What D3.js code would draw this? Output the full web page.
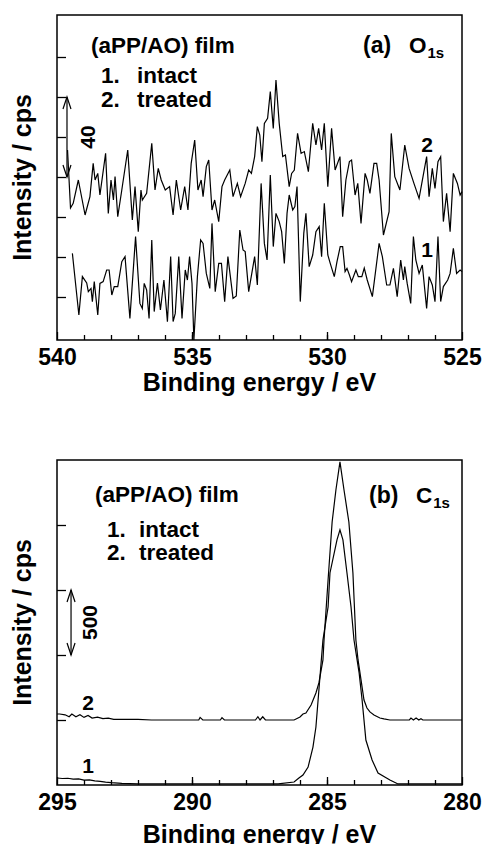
<!DOCTYPE html>
<html>
<head>
<meta charset="utf-8" />
<script src="https://d3js.org/d3.v7.min.js"></script>
<style>
  body { margin: 0; background: #fff; }
  svg text { font-family: "Liberation Sans", Arial, sans-serif; font-weight: bold; fill: #000; }
</style>
</head>
<body>
<svg id="chart" width="482" height="844"></svg>
<script>
// ---- (a) O1s : [binding energy eV, intensity cps] ----
const o1sTreated = [
  [539.61, 93.5], [539.50, 64.5], [539.40, 66.8], [539.21, 78.5], [538.96, 61], [538.78, 70.2],
  [538.66, 86.8], [538.59, 78.5], [538.49, 81.8], [538.41, 71], [538.20, 91.8], [538.10, 61.8],
  [538.00, 78.5], [537.91, 68.5], [537.85, 80.2], [537.75, 60.2], [537.60, 73.5], [537.38, 93.5],
  [537.21, 58.5], [537.11, 75.2], [536.99, 52.7], [536.89, 73.5], [536.84, 68.5], [536.68, 71.8],
  [536.49, 96.8], [536.37, 73.5], [536.25, 84.3], [536.14, 78.5], [535.99, 73.5], [535.83, 75.2],
  [535.70, 61], [535.58, 78.5], [535.42, 63.5], [535.27, 75.2], [535.15, 63.5], [535.03, 86.8],
  [534.90, 98.5], [534.78, 73.5], [534.66, 78.5], [534.59, 70.2], [534.47, 85.2], [534.38, 88.5],
  [534.26, 63.5], [534.16, 68.5], [534.01, 57.7], [533.89, 75.2], [533.79, 78.5], [533.60, 83.5],
  [533.48, 70.2], [533.32, 76.8], [533.20, 70.2], [533.03, 76.8], [532.90, 83.5], [532.80, 81.8],
  [532.68, 90.2], [532.58, 105.2], [532.49, 101], [532.41, 87.7], [532.32, 106.8], [532.20, 109.3],
  [532.10, 122.7], [531.99, 104.3], [531.89, 128.5], [531.77, 106.8], [531.64, 90.2], [531.54, 91],
  [531.40, 75.2], [531.31, 81.8], [531.21, 83.5], [531.09, 101.8], [530.96, 91.8], [530.84, 92.7],
  [530.69, 82.7], [530.53, 106.8], [530.41, 96], [530.31, 104.3], [530.20, 93.5], [530.10, 106.8],
  [529.97, 75.2], [529.83, 104.3], [529.70, 83.5], [529.52, 90.2], [529.42, 60.2], [529.30, 78.5],
  [529.17, 87.7], [529.09, 88.5], [528.96, 71], [528.86, 76.8], [528.74, 56.8], [528.59, 81.8],
  [528.51, 78.5], [528.41, 71.8], [528.26, 86.8], [528.16, 86.8], [528.07, 78.5], [527.91, 51],
  [527.70, 62.7], [527.62, 101.8], [527.49, 80.2], [527.30, 73.5], [527.12, 96], [526.96, 84.3],
  [526.78, 76.8], [526.59, 69.3], [526.31, 90.2], [526.22, 70.2], [526.10, 84.3], [526.00, 74.3],
  [525.89, 87.7], [525.79, 90.2], [525.69, 57.7], [525.57, 71.8], [525.44, 52.7], [525.32, 81.8],
  [525.17, 76.8], [525.07, 71], [525.00, 72.7]
];
const o1sIntact = [
  [539.43, 41.8], [539.19, 11], [539.06, 30.2], [538.90, 27], [538.84, 22.7], [538.74, 24.3],
  [538.69, 17.7], [538.62, 27.7], [538.49, 11], [538.41, 26.8], [538.29, 27.7], [538.16, 33.5],
  [538.07, 33.5], [537.97, 21], [537.88, 25.2], [537.75, 25.2], [537.60, 37.7], [537.48, 40.2],
  [537.30, 9.3], [537.09, 50.2], [536.93, 16.8], [536.84, 14.3], [536.77, 26.8], [536.68, 23.5],
  [536.59, 9.3], [536.49, 48.5], [536.40, 12.7], [536.28, 27], [536.17, 13.5], [536.04, 28.5],
  [535.91, 7.7], [535.79, 40.2], [535.70, 7.7], [535.62, 11.8], [535.49, 40.2], [535.37, 9.3],
  [535.25, 33.5], [535.17, 28.5], [535.09, 40.2], [535.00, 26.8], [534.93, -1.5], [534.80, 30.2],
  [534.68, 48.5], [534.59, 46.8], [534.47, 31.8], [534.34, 24.3], [534.26, 56.8], [534.14, 22.7],
  [534.01, 36.8], [533.91, 36.8], [533.79, 17.7], [533.67, 40.2], [533.48, 19.3], [533.36, 20.5],
  [533.23, 53.5], [533.11, 43.5], [533.03, 42.7], [532.90, 22.7], [532.68, 40.2], [532.58, 26],
  [532.44, 76.8], [532.32, 46.8], [532.22, 38.5], [532.10, 81], [531.99, 45.2], [531.89, 61.8],
  [531.77, 57.7], [531.68, 52.7], [531.58, 36.8], [531.48, 61.8], [531.40, 71], [531.27, 63.5],
  [531.19, 65.2], [531.11, 75.2], [530.99, 17.7], [530.86, 51.8], [530.78, 61.8], [530.66, 35.2],
  [530.53, 41], [530.41, 52.7], [530.29, 55.2], [530.20, 40.2], [530.10, 66.8], [529.97, 41],
  [529.88, 36.8], [529.73, 30.2], [529.63, 37.7], [529.51, 45.2], [529.42, 45.2], [529.33, 32.7],
  [529.26, 34.3], [529.17, 31], [529.09, 27.7], [528.93, 33.5], [528.84, 30.2], [528.71, 30.2],
  [528.62, 34.5], [528.51, 28.5], [528.32, 20.2], [528.07, 46.8], [527.95, 40.2], [527.79, 26],
  [527.67, 26], [527.54, 34.3], [527.40, 20.2], [527.27, 38.5], [527.17, 28.5], [527.12, 35.2],
  [527.03, 26.8], [526.90, 16.8], [526.80, 50.2], [526.71, 38.5], [526.59, 31.8], [526.47, 36],
  [526.31, 14.3], [526.22, 30.2], [526.10, 26], [526.00, 17.7], [525.89, 50.2], [525.79, 17.7],
  [525.69, 25.2], [525.53, 28.5], [525.44, 31.8], [525.32, 44.3], [525.20, 31.8], [525.07, 33.5],
  [525.00, 32.7]
];
const o1sMajorTicks = [540, 535, 530, 525];
const o1sMinorTicks = d3.range(539, 525, -1);
const o1sYTicks = [20, 40, 60, 80, 100, 120, 140];

// ---- (b) C1s ----
const c1sTreated = [
  [295.0, 546], [294.9, 546], [294.7, 540], [294.55, 525], [294.45, 546], [294.3, 525],
  [294.15, 540], [294.0, 520], [293.85, 535], [293.7, 515], [293.5, 522], [293.3, 510],
  [293.1, 515], [292.9, 505], [292.0, 505], [291.5, 500], [289.75, 500], [289.7, 520],
  [289.6, 500], [288.95, 500], [288.89, 518], [288.8, 500], [287.65, 500], [287.56, 525],
  [287.48, 500], [287.38, 525], [287.28, 500], [286.22, 500], [286.0, 523], [285.89, 546],
  [285.78, 554], [285.59, 615], [285.41, 708], [285.30, 785], [285.15, 962], [285.11, 1115],
  [284.96, 1577], [284.81, 2023], [284.67, 2269], [284.52, 2485], [284.37, 2269], [284.19, 2023],
  [284.04, 1631], [283.93, 1115], [283.85, 962], [283.74, 808], [283.63, 654], [283.52, 592],
  [283.41, 562], [283.26, 538], [283.04, 515], [282.89, 508], [282.67, 500], [281.95, 500],
  [281.89, 515], [281.8, 500], [281.7, 515], [281.6, 500], [281.52, 510], [281.45, 500], [280.0, 500]
];
const c1sIntact = [
  [295.0, 54], [294.8, 50], [294.6, 52], [294.4, 45], [294.2, 47], [294.0, 38], [293.8, 40],
  [293.6, 32], [293.4, 28], [293.2, 22], [293.0, 18], [292.6, 12], [292.0, 8], [286.81, 8],
  [286.22, 23], [286.04, 54], [285.89, 77], [285.70, 138], [285.52, 292], [285.41, 446],
  [285.30, 731], [285.15, 1115], [284.96, 1369], [284.89, 1631], [284.63, 1885], [284.52, 1962],
  [284.41, 1885], [284.26, 1631], [284.11, 1369], [284.00, 1115], [283.81, 862], [283.70, 654],
  [283.56, 346], [283.33, 192], [283.11, 92], [282.67, 38], [282.37, 8], [280.0, 8]
];
const c1sMajorTicks = [295, 290, 285, 280];
const c1sMinorTicks = d3.range(294, 280, -1);
const c1sYTicks = [500, 1000, 1500, 2000];

const left = 57, right = 462;
const svg = d3.select("#chart");

function drawPanel(p) {
  const x = d3.scaleLinear().domain(p.xDomain).range([left, right]);
  const y = d3.scaleLinear().domain(p.yDomain).range([p.bottom, p.top]);
  const g = svg.append("g");

  // minor x ticks (inside)
  g.append("g")
    .attr("transform", `translate(0,${p.bottom})`)
    .call(d3.axisBottom(x).tickValues(p.minor).tickSize(-5).tickFormat(""))
    .call((a) => a.select(".domain").remove());

  // major x ticks + labels
  g.append("g")
    .attr("class", "xaxis")
    .attr("transform", `translate(0,${p.bottom})`)
    .call(d3.axisBottom(x).tickValues(p.major).tickSize(-8).tickPadding(9).tickFormat(d3.format("d")))
    .call((a) => a.select(".domain").remove());

  // y ticks (inside, no labels)
  g.append("g")
    .attr("transform", `translate(${left},0)`)
    .call(d3.axisLeft(y).tickValues(p.yTicks).tickSize(-9).tickFormat(""))
    .call((a) => a.select(".domain").remove());

  g.selectAll(".tick line").attr("stroke-width", 1.3);
  g.selectAll(".xaxis text")
    .attr("font-family", "Liberation Sans, Arial, sans-serif")
    .attr("font-size", 23)
    .attr("font-weight", "bold");

  const line = d3.line().x((d) => x(d[0])).y((d) => y(d[1]));
  p.series.forEach((s) => {
    g.append("path")
      .datum(s)
      .attr("d", line)
      .attr("fill", "none")
      .attr("stroke", "#000")
      .attr("stroke-width", 1.2)
      .attr("stroke-linejoin", "miter");
  });

  // frame
  g.append("rect")
    .attr("x", left)
    .attr("y", p.top)
    .attr("width", right - left)
    .attr("height", p.bottom - p.top)
    .attr("fill", "none")
    .attr("stroke", "#000")
    .attr("stroke-width", 1.5);

  // scale bar arrow
  const ax = x(p.arrow.at), ay1 = y(p.arrow.to), ay2 = y(p.arrow.from);
  g.append("line").attr("x1", ax).attr("x2", ax).attr("y1", ay1).attr("y2", ay2)
    .attr("stroke", "#000").attr("stroke-width", 1.2);
  g.append("path")
    .attr("d", `M${ax - 4},${ay1 + 12}L${ax},${ay1}L${ax + 4},${ay1 + 12}M${ax - 4},${ay2 - 12}L${ax},${ay2}L${ax + 4},${ay2 - 12}`)
    .attr("fill", "none").attr("stroke", "#000").attr("stroke-width", 1.2);
  g.append("text")
    .attr("transform", `translate(${p.arrow.labelX},${(ay1 + ay2) / 2}) rotate(-90)`)
    .attr("text-anchor", "middle")
    .attr("font-size", 21)
    .text(p.arrow.label);

  // axis titles
  g.append("text")
    .attr("x", (left + right) / 2)
    .attr("y", p.xTitleY)
    .attr("text-anchor", "middle")
    .attr("font-size", 25)
    .text("Binding energy / eV");
  g.append("text")
    .attr("transform", `translate(31,${(p.top + p.bottom) / 2}) rotate(-90)`)
    .attr("text-anchor", "middle")
    .attr("font-size", 25)
    .text("Intensity / cps");

  // legend block
  g.append("text").attr("x", p.legend.x).attr("y", p.legend.y).attr("font-size", 22.5).text("(aPP/AO) film");
  g.append("text").attr("x", p.legend.x2).attr("y", p.legend.y1).attr("font-size", 22.5)
    .text("1.").append("tspan").attr("x", p.legend.x3).text("intact");
  g.append("text").attr("x", p.legend.x2).attr("y", p.legend.y2).attr("font-size", 22.5)
    .text("2.").append("tspan").attr("x", p.legend.x3).text("treated");

  // panel tag
  g.append("text").attr("x", p.tag.x).attr("y", p.tag.y).attr("font-size", 23).text(p.tag.letter);
  const el = g.append("text").attr("x", p.tag.ex).attr("y", p.tag.y).attr("font-size", 22.5).text(p.tag.element);
  el.append("tspan").attr("font-size", 15).attr("dx", 1).attr("dy", 5).text("1s");

  // curve numbers
  p.curveLabels.forEach((c) => {
    g.append("text").attr("x", c.x).attr("y", c.y).attr("text-anchor", "middle").attr("font-size", 21).text(c.t);
  });
}

drawPanel({
  top: 15, bottom: 340,
  xDomain: [540, 525], yDomain: [-1.5, 161],
  major: o1sMajorTicks, minor: o1sMinorTicks, yTicks: o1sYTicks,
  series: [o1sIntact, o1sTreated],
  arrow: { at: 539.63, from: 80, to: 120, label: "40", labelX: 95 },
  xTitleY: 391,
  legend: { x: 91, y: 53, x2: 101, x3: 137, y1: 83, y2: 107 },
  tag: { letter: "(a)", element: "O", x: 363, ex: 409, y: 53 },
  curveLabels: [{ t: "2", x: 427, y: 152 }, { t: "1", x: 427, y: 257 }]
});

drawPanel({
  top: 460, bottom: 785,
  xDomain: [295, 280], yDomain: [0, 2500],
  major: c1sMajorTicks, minor: c1sMinorTicks, yTicks: c1sYTicks,
  series: [c1sIntact, c1sTreated],
  arrow: { at: 294.48, from: 1000, to: 1500, label: "500", labelX: 97 },
  xTitleY: 843,
  legend: { x: 95, y: 502, x2: 107, x3: 139, y1: 537, y2: 560 },
  tag: { letter: "(b)", element: "C", x: 369, ex: 416, y: 503 },
  curveLabels: [{ t: "2", x: 88, y: 710 }, { t: "1", x: 88, y: 773 }]
});
</script>
</body>
</html>
